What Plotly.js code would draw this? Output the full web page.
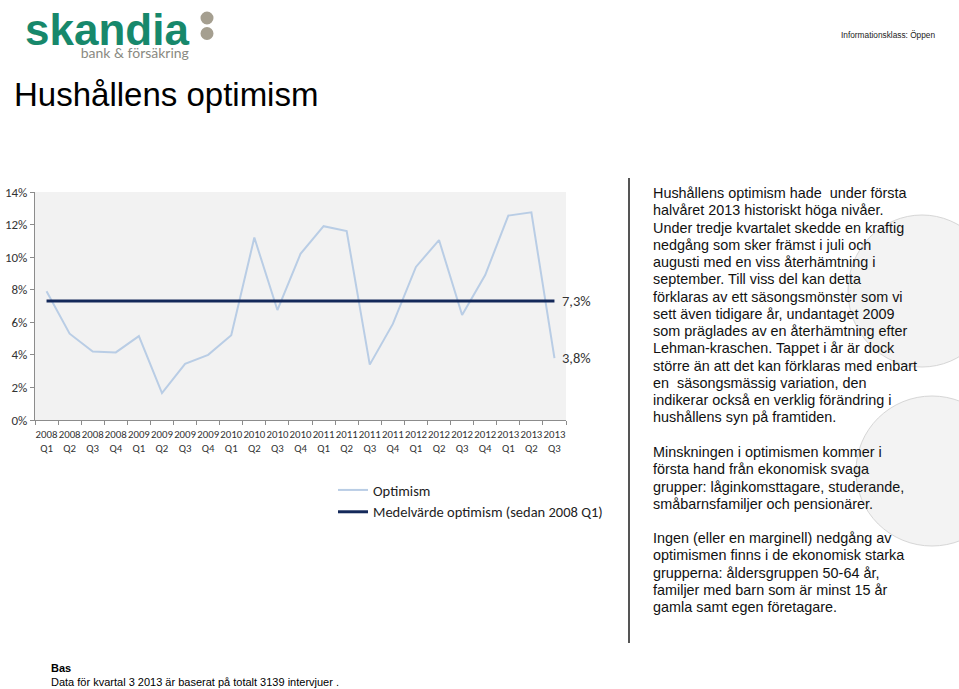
<!DOCTYPE html>
<html>
<head>
<meta charset="utf-8">
<script src="https://cdn.plot.ly/plotly-3.0.1.min.js"></script>
<style>
  html, body { margin: 0; padding: 0; background: #ffffff; }
  #chart { width: 959px; height: 689px; }
</style>
</head>
<body>
<div id="chart"></div>
<script>
// ---------------- DATA ----------------
const quarterLabels = [
  "2008<br>Q1", "2008<br>Q2", "2008<br>Q3", "2008<br>Q4",
  "2009<br>Q1", "2009<br>Q2", "2009<br>Q3", "2009<br>Q4",
  "2010<br>Q1", "2010<br>Q2", "2010<br>Q3", "2010<br>Q4",
  "2011<br>Q1", "2011<br>Q2", "2011<br>Q3", "2011<br>Q4",
  "2012<br>Q1", "2012<br>Q2", "2012<br>Q3", "2012<br>Q4",
  "2013<br>Q1", "2013<br>Q2", "2013<br>Q3"
];
const optimism = [
  7.9, 5.3, 4.2, 4.15,
  5.15, 1.65, 3.45, 4.0,
  5.2, 11.2, 6.75, 10.2,
  11.9, 11.6, 3.4, 5.9,
  9.4, 11.05, 6.45, 8.9,
  12.55, 12.75, 3.8
];
const meanOptimism = [
  7.3, 7.3, 7.3, 7.3, 7.3, 7.3, 7.3, 7.3, 7.3, 7.3, 7.3, 7.3,
  7.3, 7.3, 7.3, 7.3, 7.3, 7.3, 7.3, 7.3, 7.3, 7.3, 7.3
];
const seriesNames = ["Optimism", "Medelvärde optimism (sedan 2008 Q1)"];
const endLabels = ["7,3%", "3,8%"];
const yTickValues = [0, 2, 4, 6, 8, 10, 12, 14];
const yTickLabels = ["0%", "2%", "4%", "6%", "8%", "10%", "12%", "14%"];

const pageTitle = "Hushållens optimism";
const logoName = "skandia";
const logoSub = "bank & försäkring";
const infoClass = "Informationsklass: Öppen";
const paragraph1 = [
  "Hushållens optimism hade  under första",
  "halvåret 2013 historiskt höga nivåer.",
  "Under tredje kvartalet skedde en kraftig",
  "nedgång som sker främst i juli och",
  "augusti med en viss återhämtning i",
  "september. Till viss del kan detta",
  "förklaras av ett säsongsmönster som vi",
  "sett även tidigare år, undantaget 2009",
  "som präglades av en återhämtning efter",
  "Lehman-kraschen. Tappet i år är dock",
  "större än att det kan förklaras med enbart",
  "en  säsongsmässig variation, den",
  "indikerar också en verklig förändring i",
  "hushållens syn på framtiden."
];
const paragraph2 = [
  "Minskningen i optimismen kommer i",
  "första hand från ekonomisk svaga",
  "grupper: låginkomsttagare, studerande,",
  "småbarnsfamiljer och pensionärer."
];
const paragraph3 = [
  "Ingen (eller en marginell) nedgång av",
  "optimismen finns i de ekonomisk starka",
  "grupperna: åldersgruppen 50-64 år,",
  "familjer med barn som är minst 15 år",
  "gamla samt egen företagare."
];
const basTitle = "Bas";
const basText = "Data för kvartal 3 2013 är baserat på totalt 3139 intervjuer .";

// ---------------- LAYOUT HELPERS (pixel -> paper) ----------------
const W = 959, H = 689;
const PL = 35, PR = 566, PT = 192, PB = 420;
const px = p => (p - PL) / (PR - PL);
const py = p => (PB - p) / (PB - PT);

const chartFont = "Carlito, Calibri, Lato, sans-serif";
const arialFont = "'Liberation Sans', Arial, sans-serif";

// lines rendered in a larger span than the base font, so that line spacing stays tight
const tightLines = (lines, sizePx) =>
  lines.map(l => "<span style='font-size:" + sizePx + "px'>" + l + "</span>").join("<br>");

const traces = [
  {
    x: quarterLabels, y: optimism, name: seriesNames[0],
    type: "scatter", mode: "lines",
    line: { color: "#b9cde5", width: 2 },
    hoverinfo: "skip"
  },
  {
    x: quarterLabels, y: meanOptimism, name: seriesNames[1],
    type: "scatter", mode: "lines",
    line: { color: "#14295a", width: 3 },
    hoverinfo: "skip"
  }
];

const bodyFont = { family: arialFont, size: 13.27, color: "#111111" };

const annotations = [
  // end labels
  { xref: "x", yref: "y", x: quarterLabels[quarterLabels.length - 1], y: meanOptimism[meanOptimism.length - 1],
    text: endLabels[0], showarrow: false, xanchor: "left", yanchor: "middle", xshift: 6,
    font: { family: chartFont, size: 14.5, color: "#333333" } },
  { xref: "x", yref: "y", x: quarterLabels[quarterLabels.length - 1], y: optimism[optimism.length - 1],
    text: endLabels[1], showarrow: false, xanchor: "left", yanchor: "middle", xshift: 6,
    font: { family: chartFont, size: 14.5, color: "#333333" } },
  // logo (name + subtitle in one block, right-aligned)
  { xref: "paper", yref: "paper", x: px(191), y: py(33), showarrow: false,
    text: "<span style='font-size:44px;color:#17886b'><b>" + logoName + "</b></span><br>" +
          "<span style='font-size:14px;font-family:Lato, sans-serif'>" + logoSub + "</span>",
    xanchor: "right", yanchor: "middle", align: "right",
    font: { family: arialFont, size: 10, color: "#8a8a82" } },
  // title
  { xref: "paper", yref: "paper", x: px(12), y: py(95), text: pageTitle, showarrow: false,
    xanchor: "left", yanchor: "middle",
    font: { family: arialFont, size: 33, color: "#000000" } },
  { xref: "paper", yref: "paper", x: px(839), y: py(35), text: infoClass, showarrow: false,
    xanchor: "left", yanchor: "middle",
    font: { family: arialFont, size: 8.3, color: "#222222" } },
  // right text
  { xref: "paper", yref: "paper", x: px(651), y: py(305), text: tightLines(paragraph1, 14.4), showarrow: false,
    xanchor: "left", yanchor: "middle", align: "left", font: bodyFont },
  { xref: "paper", yref: "paper", x: px(651), y: py(478), text: tightLines(paragraph2, 14.4), showarrow: false,
    xanchor: "left", yanchor: "middle", align: "left", font: bodyFont },
  { xref: "paper", yref: "paper", x: px(651), y: py(572.5), text: tightLines(paragraph3, 14.4), showarrow: false,
    xanchor: "left", yanchor: "middle", align: "left", font: bodyFont },
  // bottom
  { xref: "paper", yref: "paper", x: px(49), y: py(668), text: "<b>" + basTitle + "</b>", showarrow: false,
    xanchor: "left", yanchor: "middle",
    font: { family: arialFont, size: 11, color: "#000000" } },
  { xref: "paper", yref: "paper", x: px(49), y: py(681.5), text: basText, showarrow: false,
    xanchor: "left", yanchor: "middle",
    font: { family: arialFont, size: 11, color: "#000000" } }
];

const shapes = [
  // faint decorative circles
  { type: "circle", xref: "paper", yref: "paper", layer: "below",
    x0: px(922 - 74), x1: px(922 + 74), y0: py(291 + 76), y1: py(291 - 76),
    fillcolor: "#f3f3f3", line: { color: "#d6d6d6", width: 1 } },
  { type: "circle", xref: "paper", yref: "paper", layer: "below",
    x0: px(932 - 76), x1: px(932 + 76), y0: py(471 + 75), y1: py(471 - 75),
    fillcolor: "#f3f3f3", line: { color: "#d6d6d6", width: 1 } },
  // vertical separator
  { type: "line", xref: "paper", yref: "paper",
    x0: px(629), x1: px(629), y0: py(178), y1: py(643),
    line: { color: "#555555", width: 2 } },
  // logo dots
  { type: "circle", xref: "paper", yref: "paper",
    x0: px(200.5), x1: px(213.5), y0: py(24.5), y1: py(11.5),
    fillcolor: "#a59f90", line: { width: 0 } },
  { type: "circle", xref: "paper", yref: "paper",
    x0: px(200.5), x1: px(213.5), y0: py(40), y1: py(27),
    fillcolor: "#a59f90", line: { width: 0 } }
];

const layout = {
  width: W, height: H,
  margin: { l: PL, r: W - PR, t: PT, b: H - PB, pad: 0 },
  paper_bgcolor: "#ffffff",
  plot_bgcolor: "#f2f2f2",
  showlegend: true,
  legend: {
    x: px(333), y: py(474), xanchor: "left", yanchor: "top",
    bgcolor: "rgba(0,0,0,0)", borderwidth: 0,
    font: { family: chartFont, size: 14.5, color: "#222222" },
    itemwidth: 30, tracegroupgap: 0
  },
  xaxis: {
    type: "category",
    range: [-0.5, quarterLabels.length - 0.5],
    tickson: "boundaries",
    ticks: "outside", ticklen: 4, tickcolor: "#8c8c8c",
    showline: true, linecolor: "#8c8c8c", linewidth: 1,
    showgrid: false, zeroline: false, tickangle: 0,
    ticklabelstandoff: 4,
    tickfont: { family: chartFont, size: 10.8, color: "#333333" },
    fixedrange: true
  },
  yaxis: {
    range: [0, 14],
    tickvals: yTickValues, ticktext: yTickLabels,
    ticks: "outside", ticklen: 4, tickcolor: "#8c8c8c",
    showline: true, linecolor: "#8c8c8c", linewidth: 1,
    showgrid: false, zeroline: false,
    tickfont: { family: chartFont, size: 13, color: "#333333" },
    fixedrange: true
  },
  annotations: annotations,
  shapes: shapes
};

Plotly.newPlot("chart", traces, layout, { displayModeBar: false, staticPlot: true });
</script>
</body>
</html>
